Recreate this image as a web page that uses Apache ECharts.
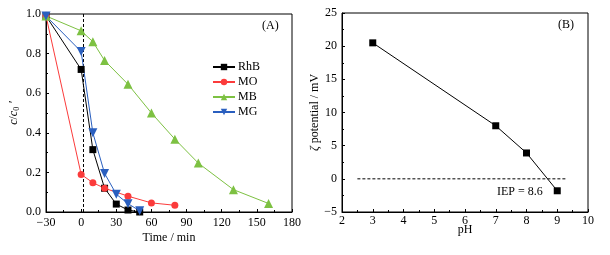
<!DOCTYPE html>
<html>
<head>
<meta charset="utf-8">
<script src="https://cdn.jsdelivr.net/npm/echarts@6/dist/echarts.min.js"></script>
<style>
  html, body { margin: 0; padding: 0; background: #fff; }
  #main { width: 610px; height: 255px; }
</style>
</head>
<body>
<div id="main"></div>
<script>
// (A) c/c0' over time for each dye
var timeRhB = [-30, 0, 10, 20, 30, 40, 50];
var valRhB  = [0.99, 0.72, 0.315, 0.12, 0.04, 0.01, 0.0];
var timeMO  = [-30, 0, 10, 20, 40, 60, 80];
var valMO   = [0.99, 0.19, 0.148, 0.12, 0.08, 0.046, 0.034];
var timeMB  = [-30, 0, 10, 20, 40, 60, 80, 100, 130, 160];
var valMB   = [0.99, 0.915, 0.86, 0.765, 0.645, 0.5, 0.368, 0.247, 0.113, 0.043];
var timeMG  = [-30, 0, 10, 20, 30, 40, 50];
var valMG   = [0.99, 0.81, 0.40, 0.195, 0.09, 0.042, 0.006];
var lightOnTime = 2;

// (B) zeta potential vs pH
var phValues   = [3, 7, 8, 9];
var zetaValues = [20.5, 8.0, 3.9, -1.8];
var iepLineX   = [2.5, 9.3];

var FONT = "'Liberation Serif', 'Times New Roman', serif";

function pairs(xs, ys) {
  return xs.map(function (x, i) { return [x, ys[i]]; });
}
function minusFmt(v) {
  return v < 0 ? '\u2212' + (-v) : String(v);
}

var axisCommon = {
  nameMoveOverlap: false,
  axisLine: { show: true, onZero: false, lineStyle: { color: '#000', width: 1 } },
  axisTick: { show: true, inside: true, length: 3, lineStyle: { color: '#000' } },
  minorTick: { show: true, splitNumber: 2, length: 2, lineStyle: { color: '#000' } },
  splitLine: { show: false },
  axisLabel: { color: '#000', fontFamily: FONT, fontSize: 12 },
  nameTextStyle: { color: '#000', fontFamily: FONT, fontSize: 12 }
};

function axis(extra) {
  return Object.assign({}, JSON.parse(JSON.stringify(axisCommon)), extra);
}

var myChart = echarts.init(document.getElementById('main'));
myChart.setOption({
  backgroundColor: '#fff',
  animation: false,
  grid: [
    { left: 46, top: 14, width: 246, height: 198, show: true, borderColor: '#000', borderWidth: 1, backgroundColor: 'transparent' },
    { left: 342, top: 13, width: 246, height: 199, show: true, borderColor: '#000', borderWidth: 1, backgroundColor: 'transparent' }
  ],
  xAxis: [
    axis({
      gridIndex: 0, type: 'value', min: -30, max: 180, interval: 30,
      name: 'Time / min', nameLocation: 'middle', nameGap: 20,
      axisLabel: { color: '#000', fontFamily: FONT, fontSize: 12, margin: 5, formatter: minusFmt }
    }),
    axis({
      gridIndex: 1, type: 'value', min: 2, max: 10, interval: 1,
      name: 'pH', nameLocation: 'middle', nameGap: 12,
      axisLabel: { color: '#000', fontFamily: FONT, fontSize: 12, margin: 3 }
    })
  ],
  yAxis: [
    axis({
      gridIndex: 0, type: 'value', min: 0, max: 1, interval: 0.2,
      name: '{i|c}/{i|c}{s|0}{i| \u2032}', nameLocation: 'middle', nameGap: 25,
      nameTextStyle: {
        color: '#000', fontFamily: FONT, fontSize: 12,
        rich: {
          i: { fontStyle: 'italic', fontFamily: FONT, fontSize: 12, color: '#000' },
          s: { fontFamily: FONT, fontSize: 8, color: '#000', padding: [7, 0, 0, 0] }
        }
      },
      axisLabel: { color: '#000', fontFamily: FONT, fontSize: 12, margin: 5, formatter: function (v) { return v.toFixed(1); } }
    }),
    axis({
      gridIndex: 1, type: 'value', min: -5, max: 25, interval: 5,
      name: '{i|\u03b6} potential / mV', nameLocation: 'middle', nameGap: 21,
      nameTextStyle: {
        color: '#000', fontFamily: FONT, fontSize: 12,
        rich: { i: { fontStyle: 'italic', fontFamily: FONT, fontSize: 12, color: '#000' } }
      },
      axisLabel: { color: '#000', fontFamily: FONT, fontSize: 12, margin: 5, formatter: minusFmt }
    })
  ],
  legend: {
    data: ['RhB', 'MO', 'MB', 'MG'],
    orient: 'vertical',
    left: 207, top: 56,
    itemWidth: 22, itemHeight: 8, itemGap: 3,
    textStyle: { color: '#000', fontFamily: FONT, fontSize: 12, padding: [0, 0, 0, -2] }
  },
  series: [
    {
      name: 'light', type: 'line', xAxisIndex: 0, yAxisIndex: 0, silent: true, symbol: 'none',
      data: [[lightOnTime, 0], [lightOnTime, 1]],
      lineStyle: { color: '#000', width: 1, type: [3, 2] }, z: 1
    },
    {
      name: 'RhB', type: 'line', xAxisIndex: 0, yAxisIndex: 0,
      data: pairs(timeRhB, valRhB), symbol: 'rect', symbolSize: 7,
      itemStyle: { color: '#000' }, lineStyle: { color: '#000', width: 1 }
    },
    {
      name: 'MO', type: 'line', xAxisIndex: 0, yAxisIndex: 0,
      data: pairs(timeMO, valMO), symbol: 'circle', symbolSize: 7,
      itemStyle: { color: '#fb3b3b' }, lineStyle: { color: '#fb3b3b', width: 1 }
    },
    {
      name: 'MB', type: 'line', xAxisIndex: 0, yAxisIndex: 0,
      data: pairs(timeMB, valMB), symbol: 'triangle', symbolSize: 9,
      itemStyle: { color: '#7dc142' }, lineStyle: { color: '#7dc142', width: 1 }
    },
    {
      name: 'MG', type: 'line', xAxisIndex: 0, yAxisIndex: 0,
      data: pairs(timeMG, valMG), symbol: 'triangle', symbolRotate: 180, symbolSize: 9,
      itemStyle: { color: '#2a5fbf' }, lineStyle: { color: '#2a5fbf', width: 1 }
    },
    {
      name: 'iep', type: 'line', xAxisIndex: 1, yAxisIndex: 1, silent: true, symbol: 'none',
      data: [[iepLineX[0], 0], [iepLineX[1], 0]],
      lineStyle: { color: '#000', width: 1, type: [3, 2] }
    },
    {
      name: 'zeta', type: 'line', xAxisIndex: 1, yAxisIndex: 1,
      data: pairs(phValues, zetaValues), symbol: 'rect', symbolSize: 7,
      itemStyle: { color: '#000' }, lineStyle: { color: '#000', width: 1 }
    }
  ],
  graphic: [
    { type: 'text', left: 262, top: 20, style: { text: '(A)', font: '12px ' + FONT, fill: '#000' } },
    { type: 'text', left: 558, top: 19, style: { text: '(B)', font: '12px ' + FONT, fill: '#000' } },
    { type: 'text', left: 497, top: 186, style: { text: 'IEP = 8.6', font: '12px ' + FONT, fill: '#000' } }
  ]
});
</script>
</body>
</html>
